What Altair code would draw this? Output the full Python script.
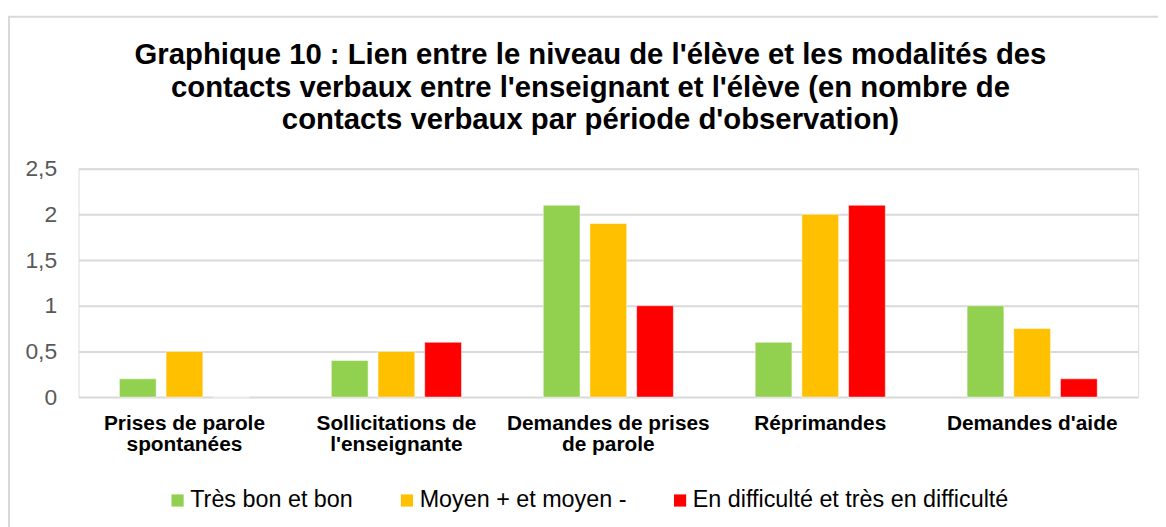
import json
import altair as alt
import pandas as pd

# ---- data ----
categories = [
    "Prises de parole spontanées",
    "Sollicitations de l'enseignante",
    "Demandes de prises de parole",
    "Réprimandes",
    "Demandes d'aide",
]
category_lines = [
    ["Prises de parole", "spontanées"],
    ["Sollicitations de", "l'enseignante"],
    ["Demandes de prises", "de parole"],
    ["Réprimandes"],
    ["Demandes d'aide"],
]
series = [
    "Très bon et bon",
    "Moyen + et moyen -",
    "En difficulté et très en difficulté",
]
tres_bon = [0.2, 0.4, 2.1, 0.6, 1.0]
moyen = [0.5, 0.5, 1.9, 2.0, 0.75]
difficulte = [0.0, 0.6, 1.0, 2.1, 0.2]
colors = ["#92d050", "#ffc000", "#ff0000"]
y_ticks = [0, 0.5, 1, 1.5, 2, 2.5]
title_lines = [
    "Graphique 10 : Lien entre le niveau de l'élève et les modalités des",
    "contacts verbaux entre l'enseignant et l'élève (en nombre de",
    "contacts verbaux par période d'observation)",
]

rows = []
for s, vals in zip(series, [tres_bon, moyen, difficulte]):
    for c, v in zip(categories, vals):
        rows.append({"categorie": c, "niveau": s, "valeur": v})
df = pd.DataFrame(rows)

# multi-line x labels
expr = "datum.value"
for c, lines in reversed(list(zip(categories, category_lines))):
    expr = f"datum.value === {json.dumps(c)} ? {json.dumps(lines)} : ({expr})"

FONT = "Liberation Sans"
GRID = "#d9d9d9"

bars = alt.Chart(df).mark_bar(stroke="white", strokeWidth=0.5).encode(
    x=alt.X(
        "categorie:N",
        sort=categories,
        title=None,
        scale=alt.Scale(paddingInner=0.339, paddingOuter=0.1695),
        axis=alt.Axis(
            labelExpr=expr,
            labelAngle=0,
            labelFont=FONT,
            labelFontSize=21,
            labelFontWeight="bold",
            labelColor="#000000",
            labelLineHeight=21,
            labelPadding=16,
            labelLimit=400,
            domain=False,
            ticks=False,
            grid=False,
        ),
    ),
    xOffset=alt.XOffset(
        "niveau:N",
        sort=series,
        scale=alt.Scale(paddingInner=0.2128, paddingOuter=0.1064),
    ),
    y=alt.Y(
        "valeur:Q",
        title=None,
        scale=alt.Scale(domain=[0, 2.5], nice=False),
        axis=alt.Axis(
            values=y_ticks,
            labelExpr="replace(format(datum.value, '.1~f'), '.', ',')",
            labelFont=FONT,
            labelFontSize=23,
            labelColor="#595959",
            labelPadding=22,
            domain=False,
            ticks=False,
            grid=True,
            gridColor=GRID,
            gridWidth=2,
        ),
    ),
    color=alt.Color(
        "niveau:N",
        sort=series,
        scale=alt.Scale(domain=series, range=colors),
        legend=alt.Legend(
            title=None,
            orient="none",
            direction="horizontal",
            legendX=88,
            legendY=322,
            symbolType="square",
            symbolSize=150,
            symbolStrokeWidth=0,
            labelFont=FONT,
            labelFontSize=23.5,
            labelColor="#000000",
            labelOffset=1,
            columnPadding=42,
            labelLimit=600,
        ),
    ),
)

frame = alt.Chart(pd.DataFrame({"f": [0]})).mark_rect(
    fillOpacity=0, stroke=GRID, strokeWidth=2
).encode(
    x=alt.value(-70),
    x2=alt.value(1095),
    y=alt.value(-153),
    y2=alt.value(420),
)

chart = alt.layer(frame, bars).properties(
    width=1067,
    height=230,
    autosize=alt.AutoSizeParams(type="none"),
    padding={"left": 71, "top": 160, "right": 20, "bottom": 129},
    title=alt.TitleParams(
        text=title_lines,
        font=FONT,
        fontSize=29.5,
        fontWeight="bold",
        color="#000000",
        anchor="middle",
        lineHeight=33,
        offset=-121,
        dx=-18,
    ),
).configure_view(stroke=None).configure(background="white")

chart.save("out.html", embed_options={"renderer": "svg", "actions": False})
